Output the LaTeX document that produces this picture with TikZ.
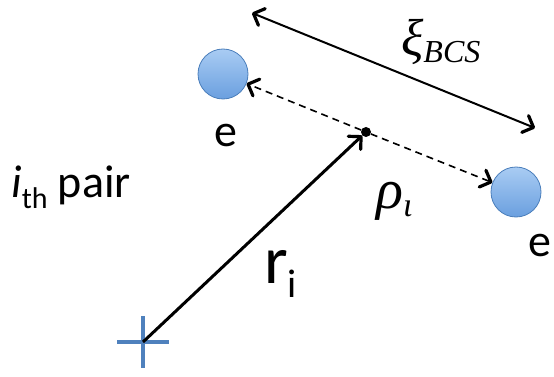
\documentclass[tikz,border=0pt]{standalone}
\usepackage{fontspec}
\setmainfont{Carlito}
\newfontfamily\tms{Liberation Serif}
\usetikzlibrary{arrows.meta}
\definecolor{ballline}{HTML}{4A7EBB}
\definecolor{balltop}{HTML}{A9CCF3}
\definecolor{ballbot}{HTML}{6A9FDF}
\definecolor{crossblue}{HTML}{4F81BD}
\tikzset{
  ball/.style={circle, minimum size=50pt, inner sep=0pt, draw=ballline, line width=0.8pt, top color=balltop, bottom color=ballbot},
  barb/.tip={Straight Barb[length=9pt, width=18pt, line width=3.2pt, line cap=round, line join=round]},
  tip/.style={-barb},
  dtip/.style={barb-barb},
  lbl/.style={inner sep=0pt, font=\fontsize{46}{50}\selectfont}
}
\begin{document}
\begin{tikzpicture}[x=1pt, y=-1pt]
\useasboundingbox (0,0) rectangle (554,377);
% nodes
\node[ball] (eL) at (223,74) {};
\node[ball] (eR) at (516,192) {};
\node[circle, fill=black, minimum size=10pt, inner sep=0pt] (c) at (366,132) {};
\coordinate (o) at (143,342);
\coordinate (xa) at (252,13);
\coordinate (xb) at (535,128);
% cross
\draw[crossblue, line width=4pt] (117,342) -- (169,342);
\draw[crossblue, line width=4pt] (143,316) -- (143,368);
% arrows
\draw[line width=3pt, tip] (o) -- (c);
\draw[line width=1.6pt, dashed, dash pattern=on 7pt off 5pt, tip] (c) -- (eL);
\draw[line width=1.6pt, dashed, dash pattern=on 7pt off 5pt, tip] (c) -- (eR);
\draw[line width=2pt, dtip] (xa) -- (xb);
% labels
\node[lbl] (le1) at (226,136) {e};
\node[lbl] (le2) at (540,246) {e};
\node[lbl, anchor=base west] (pair) at (11,197) {\textit{i}\raisebox{-0.25em}{\fontsize{30}{33}\selectfont th} pair};
\node[inner sep=0pt, anchor=base west] (ri) at (264,283) {\fontsize{68}{72}\selectfont r\raisebox{-0.22em}{\fontsize{40}{44}\selectfont i}};
\node[inner sep=0pt, anchor=base west] (xi) at (401,56) {\tms\itshape\fontsize{52}{56}\selectfont ξ\raisebox{-0.12em}{\fontsize{32}{35}\selectfont BCS}};
\node[inner sep=0pt, anchor=base west] (rho) at (376,208) {\tms\itshape\fontsize{56}{60}\selectfont ρ\raisebox{-0.15em}{\fontsize{34}{36}\selectfont ι}};
\end{tikzpicture}
\end{document}
